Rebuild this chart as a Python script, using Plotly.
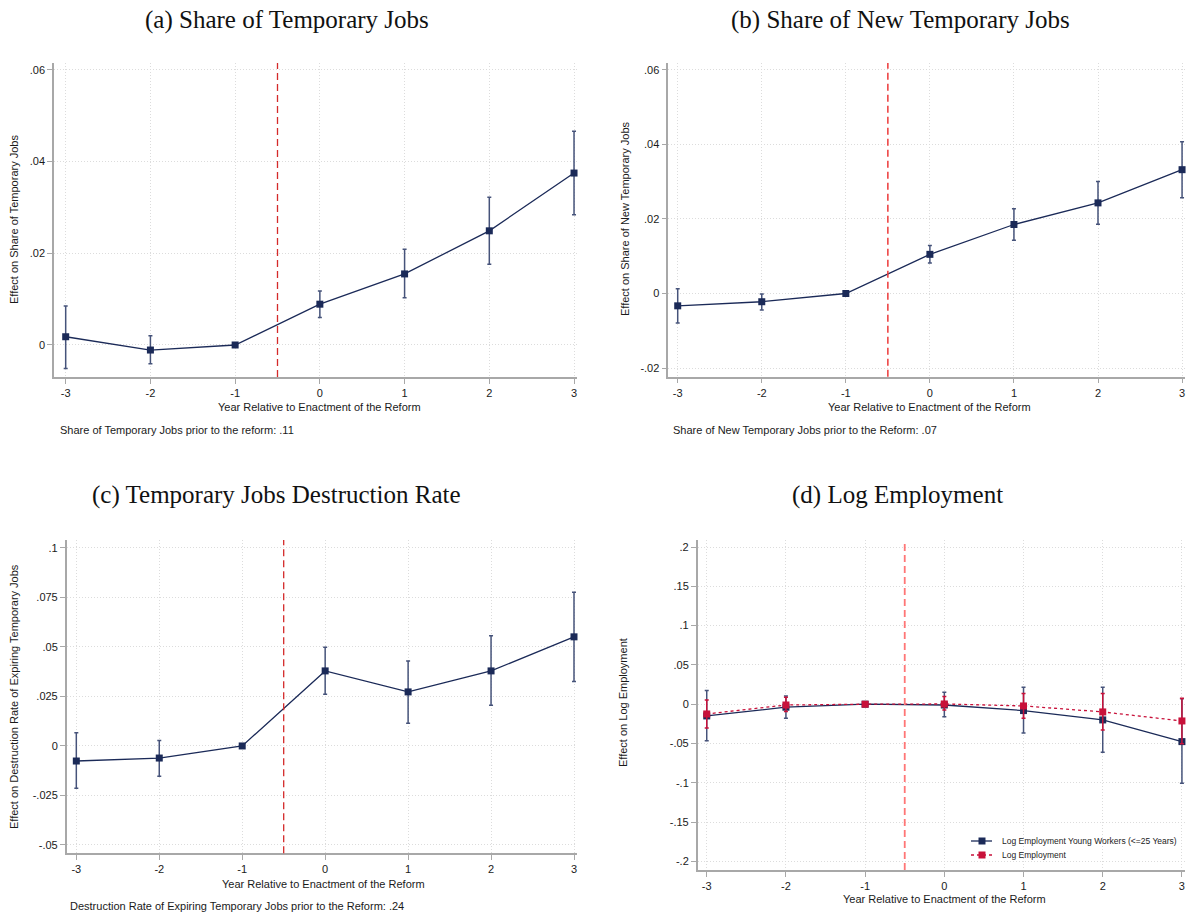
import plotly.graph_objects as go

W, H = 1188, 917

years = [-3, -2, -1, 0, 1, 2, 3]

# (a) Share of Temporary Jobs
a_est = [0.0018, -0.0011, 0.0, 0.0089, 0.0155, 0.0249, 0.0375]
a_lo = [-0.0051, -0.0041, 0.0, 0.0060, 0.0103, 0.0176, 0.0284]
a_hi = [0.0085, 0.0020, 0.0, 0.0118, 0.0209, 0.0322, 0.0466]

# (b) Share of New Temporary Jobs
b_est = [-0.0033, -0.0022, 0.0, 0.0105, 0.0185, 0.0243, 0.0332]
b_lo = [-0.0079, -0.0044, 0.0, 0.0082, 0.0143, 0.0186, 0.0257]
b_hi = [0.0013, -0.0001, 0.0, 0.0129, 0.0227, 0.0300, 0.0407]

# (c) Temporary Jobs Destruction Rate
c_est = [-0.0076, -0.0061, 0.0, 0.0379, 0.0273, 0.0379, 0.0551]
c_lo = [-0.0214, -0.0153, 0.0, 0.0261, 0.0115, 0.0205, 0.0325]
c_hi = [0.0067, 0.0027, 0.0, 0.0498, 0.0429, 0.0556, 0.0776]

# (d) Log Employment
d_young_est = [-0.0149, -0.0038, 0.0, -0.0010, -0.0081, -0.0200, -0.0476]
d_young_lo = [-0.0464, -0.0178, 0.0, -0.0158, -0.0366, -0.0611, -0.1006]
d_young_hi = [0.0173, 0.0106, 0.0, 0.0153, 0.0217, 0.0217, 0.0068]
d_all_est = [-0.0124, -0.0010, 0.0, 0.0003, -0.0022, -0.0098, -0.0213]
d_all_lo = [-0.0302, -0.0094, 0.0, -0.0073, -0.0178, -0.0327, -0.0502]
d_all_hi = [0.0055, 0.0089, 0.0, 0.0097, 0.0135, 0.0135, 0.0076]

a_yticks = [0, 0.02, 0.04, 0.06]
a_ytext = ["0", ".02", ".04", ".06"]
b_yticks = [-0.02, 0, 0.02, 0.04, 0.06]
b_ytext = ["-.02", "0", ".02", ".04", ".06"]
c_yticks = [-0.05, -0.025, 0, 0.025, 0.05, 0.075, 0.1]
c_ytext = ["-.05", "-.025", "0", ".025", ".05", ".075", ".1"]
d_yticks = [-0.2, -0.15, -0.1, -0.05, 0, 0.05, 0.1, 0.15, 0.2]
d_ytext = ["-.2", "-.15", "-.1", "-.05", "0", ".05", ".1", ".15", ".2"]

titles = ["(a) Share of Temporary Jobs", "(b) Share of New Temporary Jobs",
          "(c) Temporary Jobs Destruction Rate", "(d) Log Employment"]
ytitles = ["Effect on Share of Temporary Jobs", "Effect on Share of New Temporary Jobs",
           "Effect on Destruction Rate of Expiring Temporary Jobs", "Effect on Log Employment"]
xtitle = "Year Relative to Enactment of the Reform"
notes = ["Share of Temporary Jobs prior to the reform: .11",
         "Share of New Temporary Jobs prior to the Reform: .07",
         "Destruction Rate of Expiring Temporary Jobs prior to the Reform: .24"]
legend_names = ["Log Employment Young Workers (<=25 Years)", "Log Employment"]

NAVY = "#1b2a58"
NAVY_ERR = "#46537a"
CRIMSON = "#c8113a"
SANS = "Liberation Sans, Arial, sans-serif"
SERIF = "Liberation Serif, Times New Roman, serif"

# pixel layout of each panel: x0, x1, y0(top), y1(bottom), xrange, yrange
panels = [
    dict(px=(54, 577), py=(63, 377), xr=[-3.138, 3.035], yr=[-0.00698, 0.0615],
         yt=a_yticks, ytt=a_ytext),
    dict(px=(668.3, 1185), py=(63, 376.7), xr=[-3.112, 3.035], yr=[-0.0223, 0.0618],
         yt=b_yticks, ytt=b_ytext),
    dict(px=(66.7, 576.9), py=(540, 853.3), xr=[-3.116, 3.035], yr=[-0.0542, 0.104],
         yt=c_yticks, ytt=c_ytext),
    dict(px=(697.7, 1184.7), py=(540, 870), xr=[-3.114, 3.035], yr=[-0.211, 0.209],
         yt=d_yticks, ytt=d_ytext),
]

fig = go.Figure()


def add_series(i, est, lo, hi, color, errcolor, dash, name=None):
    ax = "" if i == 0 else str(i + 1)
    fig.add_trace(go.Scatter(
        x=years, y=est, mode="lines+markers",
        line=dict(color=color, width=1.3, dash=dash),
        marker=dict(symbol="square", size=7, color=color),
        error_y=dict(type="data", symmetric=False,
                     array=[h - e for h, e in zip(hi, est)],
                     arrayminus=[e - l for e, l in zip(est, lo)],
                     color=errcolor, thickness=1.5, width=2),
        xaxis="x" + ax, yaxis="y" + ax,
        name=name, showlegend=False, cliponaxis=False,
    ))


add_series(0, a_est, a_lo, a_hi, NAVY, NAVY_ERR, "solid")
add_series(1, b_est, b_lo, b_hi, NAVY, NAVY_ERR, "solid")
add_series(2, c_est, c_lo, c_hi, NAVY, NAVY_ERR, "solid")
add_series(3, d_young_est, d_young_lo, d_young_hi, NAVY, NAVY_ERR, "solid", legend_names[0])
add_series(3, d_all_est, d_all_lo, d_all_hi, CRIMSON, CRIMSON, "dot", legend_names[1])

layout = dict(
    width=W, height=H, margin=dict(l=0, r=0, t=0, b=0),
    paper_bgcolor="white", plot_bgcolor="white",
    font=dict(family=SANS, size=11, color="#1a1a1a"),
    showlegend=False,
)

annotations = []
shapes = []
dash_colors = ["#d42a2a", "#ec3a3a", "#d42a2a", "#ff7676"]
dash_widths = [1.3, 1.5, 1.3, 1.8]

for i, p in enumerate(panels):
    ax = "" if i == 0 else str(i + 1)
    x0, x1 = p["px"]
    y0, y1 = p["py"]
    axis_common = dict(showline=True, linecolor="#a8a8a8", linewidth=1.5,
                       ticks="outside", ticklen=5, tickcolor="#a8a8a8", tickwidth=1.2,
                       showgrid=True, gridcolor="#dcdcdc", griddash="1px,2px", gridwidth=1,
                       zeroline=False, tickfont=dict(size=11, family=SANS, color="#1a1a1a"))
    layout["xaxis" + ax] = dict(
        domain=[x0 / W, x1 / W], range=p["xr"], anchor="y" + ax,
        tickvals=years, ticktext=[str(v) for v in years], **axis_common)
    layout["yaxis" + ax] = dict(
        domain=[1 - y1 / H, 1 - y0 / H], range=p["yr"], anchor="x" + ax,
        tickvals=p["yt"], ticktext=p["ytt"], **axis_common)
    shapes.append(dict(type="line", xref="x" + ax, yref="y" + ax + " domain",
                       x0=-0.5, x1=-0.5, y0=0, y1=1,
                       line=dict(color=dash_colors[i], width=dash_widths[i], dash="7px,4px")))

# titles
for (cx, cy), t in zip([(287, 20), (900, 20), (276, 495), (898, 495)], titles):
    annotations.append(dict(text=t, x=cx / W, y=1 - cy / H, xref="paper", yref="paper",
                            showarrow=False, xanchor="center", yanchor="middle",
                            font=dict(family=SERIF, size=25, color="#111")))
# y titles
for (cx, cy), t in zip([(14, 220), (625, 219), (14, 697), (623, 703)], ytitles):
    annotations.append(dict(text=t, x=cx / W, y=1 - cy / H, xref="paper", yref="paper",
                            showarrow=False, xanchor="center", yanchor="middle",
                            textangle=-90, font=dict(family=SANS, size=11, color="#1a1a1a")))
# x titles
for (cx, cy) in [(319, 407), (929, 407), (323, 884), (944, 899)]:
    annotations.append(dict(text=xtitle, x=cx / W, y=1 - cy / H, xref="paper", yref="paper",
                            showarrow=False, xanchor="center", yanchor="middle",
                            font=dict(family=SANS, size=11, color="#1a1a1a")))
# notes
for (lx, cy), t in zip([(58, 430), (671, 430), (68, 906)], notes):
    annotations.append(dict(text=t, x=lx / W, y=1 - cy / H, xref="paper", yref="paper",
                            showarrow=False, xanchor="left", yanchor="middle",
                            font=dict(family=SANS, size=11, color="#1a1a1a")))

# custom legend for panel (d)
leg_rows = [(841, NAVY, "solid", legend_names[0]), (855, CRIMSON, "dot", legend_names[1])]
for ly, col, dsh, txt in leg_rows:
    shapes.append(dict(type="line", xref="paper", yref="paper",
                       x0=971 / W, x1=992 / W, y0=1 - ly / H, y1=1 - ly / H,
                       line=dict(color=col, width=1.3, dash=dsh)))
    shapes.append(dict(type="rect", xref="paper", yref="paper",
                       x0=978.5 / W, x1=985.5 / W, y0=1 - (ly + 3.5) / H, y1=1 - (ly - 3.5) / H,
                       line=dict(width=0), fillcolor=col))
    annotations.append(dict(text=txt, x=1000 / W, y=1 - ly / H, xref="paper", yref="paper",
                            showarrow=False, xanchor="left", yanchor="middle",
                            font=dict(family=SANS, size=8.5, color="#222")))

layout["annotations"] = annotations
layout["shapes"] = shapes
fig.update_layout(**layout)
fig.write_html("out.html", config={"displayModeBar": False},
               post_script="document.body.style.margin='0';document.body.style.overflow='hidden';")
